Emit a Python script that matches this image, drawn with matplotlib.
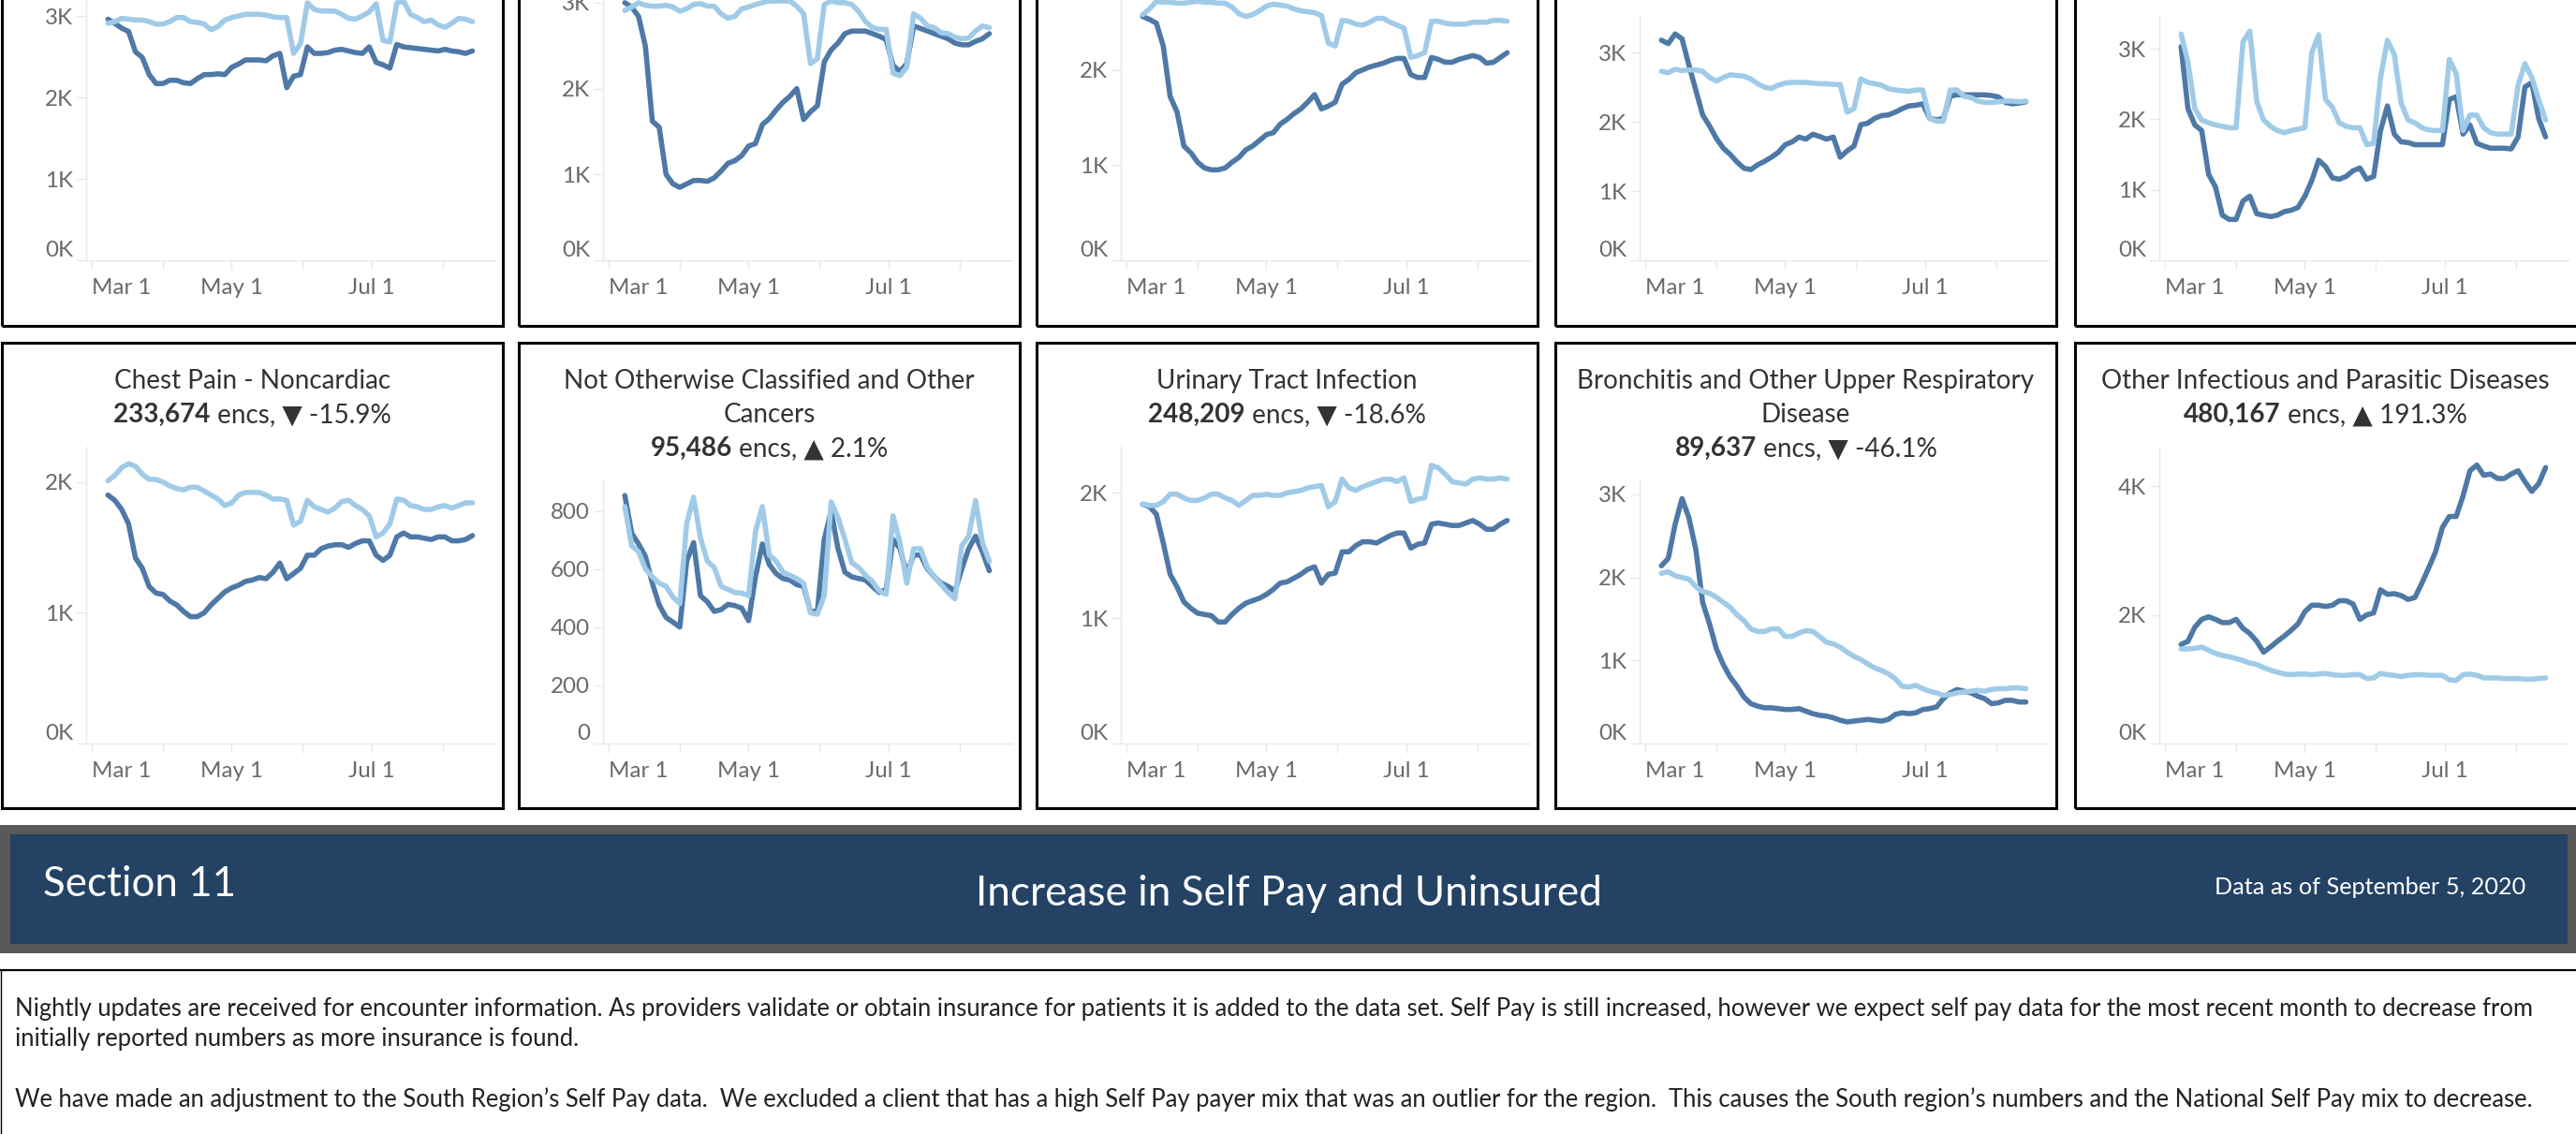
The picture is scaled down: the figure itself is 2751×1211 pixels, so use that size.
import matplotlib
matplotlib.use("Agg")
import matplotlib.pyplot as plt
from matplotlib.patches import Rectangle
from matplotlib.lines import Line2D
from matplotlib.ticker import FuncFormatter

# ── Data (daily encounters, 7-day avg; x = days since Mar 1, 2020) ─────────
DAYS = [7, 10, 13, 16, 19, 22, 25, 28, 31, 34, 37, 40, 43, 46, 49, 52, 55, 58,
        61, 64, 67, 70, 73, 76, 79, 82, 85, 88, 91, 94, 97, 100, 103, 106, 109,
        112, 115, 118, 121, 124, 127, 130, 133, 136, 139, 142, 145, 148, 151,
        154, 157, 160, 163, 166]

# top row (titles cut off in the screenshot); dark = current, light = prior
TOP1_CUR = [2960, 2910, 2850, 2810, 2560, 2490, 2280, 2170, 2170, 2210,
            2210, 2180, 2170, 2230, 2280, 2280, 2290, 2280, 2370, 2410,
            2460, 2460, 2460, 2450, 2510, 2540, 2120, 2260, 2280, 2620,
            2540, 2540, 2550, 2580, 2590, 2570, 2550, 2540, 2620, 2430,
            2400, 2360, 2650, 2620, 2610, 2600, 2590, 2580, 2570, 2590,
            2570, 2560, 2540, 2570]
TOP1_PRIOR = [2910, 2930, 2970, 2960, 2950, 2950, 2930, 2900, 2900, 2930,
              2980, 2980, 2930, 2920, 2900, 2830, 2870, 2950, 2980, 3000,
              3020, 3020, 3020, 3010, 2990, 2980, 2980, 2540, 2660, 3160,
              3080, 3060, 3060, 3060, 3020, 2970, 2960, 3000, 3050, 3150,
              2700, 2680, 3160, 3180, 3020, 2980, 2930, 2950, 2890, 2860,
              2910, 2970, 2960, 2930]
TOP2_CUR = [3000, 2950, 2840, 2490, 1620, 1550, 1000, 890, 850, 890,
            930, 930, 920, 960, 1040, 1130, 1160, 1220, 1330, 1360,
            1580, 1650, 1750, 1840, 1910, 2000, 1640, 1730, 1800, 2310,
            2450, 2530, 2640, 2670, 2670, 2670, 2640, 2610, 2570, 2270,
            2200, 2290, 2730, 2700, 2670, 2640, 2610, 2580, 2530, 2510,
            2510, 2550, 2580, 2640]
TOP2_PRIOR = [2910, 2950, 3000, 2970, 2960, 2960, 2970, 2950, 2900, 2930,
              2980, 2990, 2960, 2960, 2870, 2820, 2840, 2930, 2950, 2980,
              3000, 3020, 3020, 3020, 3020, 2960, 2870, 2290, 2350, 2980,
              3020, 3000, 3000, 2980, 2900, 2780, 2710, 2690, 2690, 2180,
              2150, 2250, 2870, 2820, 2730, 2710, 2650, 2640, 2600, 2580,
              2590, 2670, 2730, 2710]
TOP3_CUR = [2560, 2530, 2490, 2250, 1720, 1560, 1200, 1130, 1030, 970,
            950, 950, 970, 1030, 1080, 1160, 1200, 1260, 1320, 1340,
            1430, 1480, 1540, 1590, 1660, 1740, 1590, 1620, 1660, 1850,
            1900, 1970, 2000, 2030, 2050, 2070, 2100, 2120, 2120, 1950,
            1920, 1920, 2130, 2110, 2080, 2080, 2110, 2130, 2150, 2130,
            2070, 2080, 2130, 2180]
TOP3_PRIOR = [2580, 2640, 2720, 2710, 2710, 2700, 2700, 2710, 2720, 2710,
              2710, 2700, 2700, 2660, 2590, 2560, 2580, 2620, 2670, 2690,
              2680, 2670, 2640, 2620, 2610, 2600, 2570, 2280, 2250, 2520,
              2510, 2480, 2470, 2500, 2540, 2540, 2500, 2470, 2440, 2130,
              2150, 2180, 2510, 2510, 2490, 2480, 2480, 2480, 2500, 2500,
              2500, 2520, 2520, 2510]
TOP4_CUR = [3180, 3130, 3270, 3200, 2820, 2460, 2100, 1940, 1760, 1620,
            1530, 1420, 1330, 1310, 1380, 1430, 1490, 1560, 1670, 1710,
            1780, 1750, 1820, 1790, 1750, 1780, 1490, 1580, 1650, 1960,
            1980, 2050, 2090, 2100, 2140, 2190, 2230, 2240, 2260, 2050,
            2030, 2050, 2370, 2390, 2390, 2390, 2390, 2390, 2380, 2360,
            2280, 2260, 2270, 2290]
TOP4_PRIOR = [2730, 2710, 2760, 2740, 2750, 2750, 2730, 2640, 2590, 2640,
              2680, 2670, 2660, 2620, 2550, 2500, 2480, 2530, 2560, 2570,
              2570, 2570, 2560, 2550, 2550, 2540, 2540, 2140, 2190, 2620,
              2570, 2550, 2530, 2480, 2460, 2450, 2440, 2460, 2460, 2050,
              2010, 2010, 2460, 2460, 2370, 2350, 2300, 2280, 2280, 2290,
              2300, 2300, 2290, 2300]
TOP5_CUR = [3030, 2150, 1920, 1840, 1220, 1040, 640, 580, 580, 840,
            910, 660, 640, 620, 640, 690, 710, 750, 910, 1130,
            1420, 1330, 1170, 1150, 1190, 1270, 1310, 1150, 1190, 1840,
            2190, 1790, 1680, 1670, 1640, 1640, 1640, 1640, 1640, 2280,
            2320, 1790, 1920, 1660, 1620, 1590, 1590, 1590, 1580, 1750,
            2460, 2520, 2010, 1750]
TOP5_PRIOR = [3210, 2810, 2150, 1990, 1950, 1920, 1900, 1880, 1880, 3100,
              3250, 2250, 1990, 1900, 1840, 1810, 1840, 1860, 1880, 2940,
              3200, 2280, 2170, 1950, 1900, 1880, 1880, 1640, 1660, 2590,
              3120, 2920, 2230, 1990, 1950, 1880, 1850, 1840, 1840, 2850,
              2650, 1840, 2060, 2060, 1880, 1810, 1790, 1790, 1790, 2480,
              2790, 2590, 2280, 1990]

# bottom row
CHEST_CUR = [1900, 1860, 1790, 1680, 1420, 1340, 1200, 1150, 1140, 1090,
             1060, 1010, 970, 970, 1000, 1060, 1110, 1160, 1190, 1210,
             1240, 1250, 1270, 1260, 1310, 1380, 1260, 1300, 1340, 1440,
             1440, 1490, 1510, 1520, 1520, 1500, 1530, 1550, 1550, 1440,
             1400, 1440, 1580, 1610, 1580, 1580, 1570, 1560, 1580, 1580,
             1550, 1550, 1560, 1590]
CHEST_PRIOR = [2010, 2050, 2110, 2140, 2120, 2060, 2020, 2020, 2000, 1970,
               1950, 1940, 1960, 1960, 1930, 1900, 1870, 1820, 1840, 1900,
               1920, 1920, 1920, 1900, 1870, 1870, 1860, 1670, 1700, 1860,
               1810, 1790, 1770, 1800, 1850, 1860, 1820, 1790, 1740, 1580,
               1610, 1680, 1870, 1860, 1820, 1810, 1790, 1790, 1810, 1820,
               1800, 1820, 1840, 1840]
CANCER_CUR = [854, 724, 687, 644, 552, 477, 434, 418, 401, 628,
              692, 509, 488, 455, 461, 479, 475, 466, 423, 574,
              687, 617, 585, 568, 563, 547, 541, 455, 455, 703,
              800, 671, 590, 574, 568, 563, 541, 520, 531, 703,
              671, 585, 649, 649, 601, 574, 552, 541, 525, 601,
              671, 714, 660, 595]
CANCER_PRIOR = [816, 681, 660, 601, 574, 552, 541, 504, 482, 757,
                848, 708, 628, 606, 541, 531, 520, 518, 509, 730,
                816, 649, 628, 590, 579, 568, 552, 450, 445, 509,
                832, 778, 703, 622, 606, 579, 558, 525, 514, 784,
                692, 552, 671, 671, 606, 574, 547, 520, 498, 681,
                714, 837, 692, 628]
UTI_CUR = [1910, 1890, 1830, 1600, 1350, 1250, 1130, 1080, 1040, 1030,
           1020, 970, 970, 1030, 1080, 1120, 1140, 1160, 1190, 1230,
           1280, 1290, 1320, 1350, 1390, 1410, 1280, 1350, 1360, 1530,
           1530, 1580, 1610, 1610, 1600, 1630, 1660, 1680, 1680, 1560,
           1590, 1600, 1750, 1760, 1750, 1740, 1740, 1760, 1780, 1750,
           1710, 1710, 1750, 1780]
UTI_PRIOR = [1910, 1900, 1900, 1930, 1990, 1990, 1960, 1940, 1940, 1960,
             1990, 1990, 1960, 1940, 1900, 1940, 1980, 1980, 1990, 1980,
             1980, 2000, 2010, 2020, 2040, 2050, 2060, 1890, 1930, 2110,
             2040, 2020, 2050, 2070, 2090, 2110, 2110, 2090, 2120, 1930,
             1950, 1960, 2220, 2200, 2150, 2090, 2080, 2070, 2110, 2120,
             2110, 2110, 2120, 2110]
BRONCH_CUR = [2140, 2230, 2640, 2950, 2720, 2340, 1700, 1440, 1140, 950,
              800, 690, 560, 480, 450, 430, 430, 420, 410, 410,
              420, 390, 360, 340, 330, 310, 280, 260, 270, 280,
              290, 280, 270, 290, 350, 370, 360, 370, 410, 420,
              440, 540, 610, 650, 630, 610, 570, 540, 480, 490,
              520, 520, 500, 500]
BRONCH_PRIOR = [2050, 2070, 2020, 2000, 1980, 1890, 1830, 1810, 1760, 1700,
                1640, 1550, 1480, 1380, 1350, 1350, 1380, 1380, 1290, 1290,
                1330, 1360, 1350, 1290, 1220, 1200, 1160, 1100, 1050, 1010,
                960, 910, 880, 840, 780, 690, 680, 700, 660, 630,
                610, 580, 590, 610, 620, 630, 640, 630, 650, 660,
                660, 670, 670, 660]
INFECT_CUR = [1540, 1590, 1810, 1930, 1970, 1930, 1880, 1880, 1930, 1790,
              1710, 1590, 1420, 1500, 1590, 1670, 1760, 1860, 2050, 2150,
              2150, 2130, 2150, 2220, 2220, 2170, 1930, 2000, 2030, 2390,
              2320, 2330, 2300, 2240, 2270, 2490, 2730, 2980, 3360, 3530,
              3530, 3850, 4240, 4330, 4170, 4190, 4120, 4120, 4190, 4240,
              4070, 3920, 4040, 4290]
INFECT_PRIOR = [1470, 1470, 1480, 1500, 1450, 1400, 1370, 1350, 1320, 1290,
                1250, 1230, 1180, 1140, 1110, 1080, 1070, 1080, 1080, 1070,
                1080, 1090, 1070, 1060, 1060, 1070, 1070, 1010, 1020, 1090,
                1070, 1060, 1040, 1060, 1070, 1070, 1060, 1060, 1060, 990,
                980, 1070, 1080, 1060, 1020, 1020, 1020, 1010, 1010, 1010,
                1000, 1000, 1010, 1020]

BOTTOM_TITLES = [["Chest Pain - Noncardiac"],
                 ["Not Otherwise Classified and Other", "Cancers"],
                 ["Urinary Tract Infection"],
                 ["Bronchitis and Other Upper Respiratory", "Disease"],
                 ["Other Infectious and Parasitic Diseases"]]
BOTTOM_ENCS = [233674, 95486, 248209, 89637, 480167]
BOTTOM_PCT = [-15.9, 2.1, -18.6, -46.1, 191.3]

MONTH_TICKS = [0, 31, 61, 92, 122, 153]
MONTH_LABELS = ["Mar 1", "", "May 1", "", "Jul 1", ""]

SECTION = "Section 11"
BANNER = "Increase in Self Pay and Uninsured"
AS_OF = "Data as of September 5, 2020"
NOTES = [
    "Nightly updates are received for encounter information. As providers validate or obtain insurance "
    "for patients it is added to the data set. Self Pay is still increased, however we expect self pay data "
    "for the most recent month to decrease from",
    "initially reported numbers as more insurance is found.",
    "We have made an adjustment to the South Region\u2019s Self Pay data.  We excluded a client that has a "
    "high Self Pay payer mix that was an outlier for the region.  This causes the South region\u2019s numbers "
    "and the National Self Pay mix to decrease.",
]

# ── Style ──────────────────────────────────────────────────────────────────
W, H, DPI = 2751, 1211, 100
FONT = ["Lato", "DejaVu Sans"]
plt.rcParams["font.family"] = FONT
C_CUR = "#4e79a7"
C_PRIOR = "#a0cbe8"
C_TITLE = "#333333"
C_TICK = "#6a6a6a"
C_AXIS = "#e8e8e8"
LW = 4.0

fig = plt.figure(figsize=(W / DPI, H / DPI), dpi=DPI)
fig.patch.set_facecolor("white")
R = fig.canvas.get_renderer()


def fig_text(x, y, s, size, ha="left", va="baseline", **kw):
    return fig.text(x / W, 1 - y / H, s, fontsize=size, ha=ha, va=va, **kw)


def width_of(s, size, **kw):
    t = fig_text(0, 0, s, size, **kw)
    w = t.get_window_extent(renderer=R).width
    t.remove()
    return w


def fit(s, target, **kw):
    return 20 * target / width_of(s, 20, **kw)


def rect(x0, y0, x1, y1, **kw):
    fig.add_artist(Rectangle((x0 / W, 1 - y1 / H), (x1 - x0) / W, (y1 - y0) / H,
                             transform=fig.transFigure, **kw))


TITLE_SIZE = fit("Other Infectious and Parasitic Diseases", 479)
TICK_SIZE = fit("May 1", 67)

PANEL_LEFTS = [2, 554, 1107, 1661, 2216]
PANEL_W = 535


def make_axes(pl, y_top, y_axis, series, yticks, ylim, kfmt=True):
    ax = fig.add_axes([(pl + 90) / W, 1 - y_axis / H, 437 / W, (y_axis - y_top) / H])
    ax.set_facecolor("none")
    cur, prior = series
    ax.plot(DAYS, cur, color=C_CUR, lw=LW, solid_joinstyle="round",
            solid_capstyle="round")
    ax.plot(DAYS, prior, color=C_PRIOR, lw=LW, solid_joinstyle="round",
            solid_capstyle="round")
    ax.set_xlim(-2.5, 176)
    ax.set_ylim(*ylim)
    for sp in ["top", "right"]:
        ax.spines[sp].set_visible(False)
    for sp in ["left", "bottom"]:
        ax.spines[sp].set_color(C_AXIS)
        ax.spines[sp].set_linewidth(1)
    ax.set_xticks(MONTH_TICKS, labels=MONTH_LABELS)
    ax.set_yticks(yticks)
    if kfmt:
        ax.yaxis.set_major_formatter(FuncFormatter(lambda v, p: f"{v / 1000:.0f}K"))
    else:
        ax.yaxis.set_major_formatter(FuncFormatter(lambda v, p: f"{v:.0f}"))
    ax.tick_params(axis="x", length=7, width=1, color=C_AXIS, pad=7,
                   labelsize=TICK_SIZE, labelcolor=C_TICK)
    ax.tick_params(axis="y", length=7, width=1, color=C_AXIS, pad=3,
                   labelsize=TICK_SIZE, labelcolor=C_TICK)
    ax.get_xticklabels()[0].set_ha("left")
    ax.get_yticklabels()[0].set_va("bottom")
    return ax


# ── Top row (titles are above the visible area) ────────────────────────────
top_series = [(TOP1_CUR, TOP1_PRIOR), (TOP2_CUR, TOP2_PRIOR), (TOP3_CUR, TOP3_PRIOR),
              (TOP4_CUR, TOP4_PRIOR), (TOP5_CUR, TOP5_PRIOR)]
top_ytop = [-39, -39, -39, 17, 17]
top_ymax = [3644, 3457, 3117, 3530, 3466]
for i, pl in enumerate(PANEL_LEFTS):
    rect(pl, -149, pl + PANEL_W + (3 if i == 4 else 0), 348,
         fill=False, ec="black", lw=2.2)
    make_axes(pl, top_ytop[i], 278, top_series[i], [0, 1000, 2000, 3000],
              (0, top_ymax[i]))

# ── Bottom row ─────────────────────────────────────────────────────────────
bot_series = [(CHEST_CUR, CHEST_PRIOR), (CANCER_CUR, CANCER_PRIOR), (UTI_CUR, UTI_PRIOR),
              (BRONCH_CUR, BRONCH_PRIOR), (INFECT_CUR, INFECT_PRIOR)]
bot_yticks = [[0, 1000, 2000], [0, 200, 400, 600, 800], [0, 1000, 2000],
              [0, 1000, 2000, 3000], [0, 2000, 4000]]
bot_ymax = [2270, 906, 2369, 3169, 4615]
for i, pl in enumerate(PANEL_LEFTS):
    rect(pl, 366, pl + PANEL_W + (3 if i == 4 else 0), 863,
         fill=False, ec="black", lw=2.2)
    lines = BOTTOM_TITLES[i]
    y_top = 477 if len(lines) == 1 else 513
    make_axes(pl, y_top, 794, bot_series[i], bot_yticks[i], (0, bot_ymax[i]),
              kfmt=(i != 1))

    cx = pl + PANEL_W / 2
    y = 415
    for ln in lines:
        fig_text(cx, y, ln, TITLE_SIZE, ha="center", color=C_TITLE)
        y += 36
    pct = BOTTOM_PCT[i]
    arrow = "\u25B2" if pct > 0 else "\u25BC"
    parts = [(f"{BOTTOM_ENCS[i]:,}", "bold"), (f" encs, {arrow} {pct:.1f}%", "normal")]
    widths = [width_of(s, TITLE_SIZE, weight=w) for s, w in parts]
    x = cx - sum(widths) / 2
    for (s, w), wd in zip(parts, widths):
        fig_text(x, y, s, TITLE_SIZE, weight=w, color=C_TITLE)
        x += wd

# ── Section banner ─────────────────────────────────────────────────────────
rect(0, 881, W, 1018, fc="#595959", ec="none")
rect(11, 891, 2742, 1008, fc="#234264", ec="none")
fig_text(46, 957, SECTION, fit(SECTION, 206), color="white")
fig_text(1376, 967, BANNER, fit(BANNER, 672), ha="center", color="white")
fig_text(2697, 955, AS_OF, fit(AS_OF, 332), ha="right", color="white")

# ── Notes box ──────────────────────────────────────────────────────────────
fig.add_artist(Line2D([0, 1], [1 - 1036 / H] * 2, transform=fig.transFigure,
                      color="black", lw=1.6))
fig.add_artist(Line2D([1 / W, 1 / W], [1 - 1036 / H, 0], transform=fig.transFigure,
                      color="black", lw=1.0))
note_size = fit(NOTES[0], 2698)
for s, y in zip(NOTES, [1085, 1117, 1182]):
    fig_text(16, y, s, note_size, color="#222222")

fig.savefig("out.png", dpi=DPI)
